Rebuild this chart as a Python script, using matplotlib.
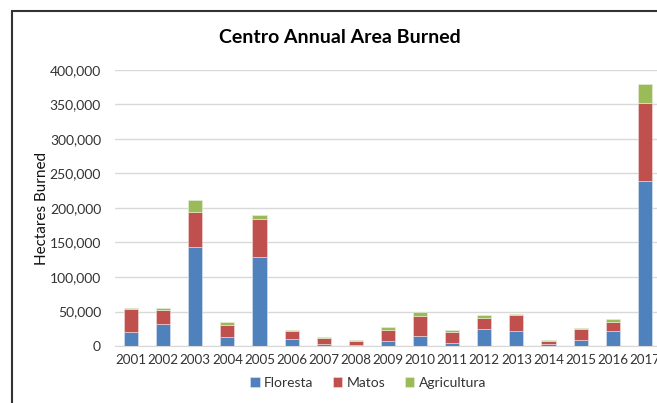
import matplotlib
matplotlib.use('Agg')
import matplotlib.pyplot as plt
import numpy as np
from matplotlib.patches import Rectangle
from matplotlib.ticker import FuncFormatter

plt.rcParams['font.family'] = ['Lato', 'DejaVu Sans']

years = [str(y) for y in range(2001, 2018)]
floresta = [21000, 32000, 143000, 13500, 129000, 9700, 2900, 1900, 6800,
            15000, 4800, 24600, 21700, 2400, 9100, 21700, 239000]
matos = [32000, 20000, 51000, 16500, 55500, 12500, 9100, 4900, 16900,
         28500, 16000, 15500, 22700, 4800, 15500, 13500, 113500]
agricultura = [2500, 3000, 18000, 5000, 6000, 500, 600, 1400, 3800,
               5800, 2400, 4300, 2000, 1000, 1500, 4400, 27000]

colors = {'Floresta': '#4F81BD', 'Matos': '#C0504D', 'Agricultura': '#9BBB59'}

fig = plt.figure(figsize=(6.57, 4.03), dpi=100)
ax = fig.add_axes([0.175, 0.1414, 0.831, 0.685])

x = np.arange(len(years))
w = 0.44
b1 = ax.bar(x, floresta, w, color=colors['Floresta'], label='Floresta',
            edgecolor='#dfe8f3', linewidth=0.4)
bottom2 = np.array(floresta)
b2 = ax.bar(x, matos, w, bottom=bottom2, color=colors['Matos'], label='Matos',
            edgecolor='#f3dede', linewidth=0.4)
bottom3 = bottom2 + np.array(matos)
b3 = ax.bar(x, agricultura, w, bottom=bottom3, color=colors['Agricultura'],
            label='Agricultura', edgecolor='#eaf1de', linewidth=0.4)

ax.set_xlim(-0.5, len(years) - 0.5)
ax.set_ylim(0, 400000)
ax.set_yticks(np.arange(0, 400001, 50000))
ax.yaxis.set_major_formatter(FuncFormatter(lambda v, p: f'{int(v):,}'))
ax.set_xticks(x)
ax.set_xticklabels(years)
ax.tick_params(axis='both', length=0, labelsize=10, colors='#333333')
ax.tick_params(axis='x', labelsize=9.6, pad=6)
ax.tick_params(axis='y', pad=10)
ax.grid(axis='y', color='#d9d9d9', linewidth=1)
ax.set_axisbelow(True)
for s in ['top', 'right', 'left']:
    ax.spines[s].set_visible(False)
ax.spines['bottom'].set_color('#d9d9d9')

fig.text(0.064, 0.483, 'Hectares Burned', rotation=90, ha='center',
         va='center', fontsize=11, color='#111111')
fig.text(0.517, 0.908, 'Centro Annual Area Burned', ha='center',
         va='center', fontsize=14, fontweight='bold', color='#000000')

fig.legend(handles=[b1, b2, b3], loc='center', bbox_to_anchor=(0.56, 0.05),
           ncol=3, frameon=False, fontsize=10, handlelength=0.7,
           handleheight=0.7, handletextpad=0.3, columnspacing=1.4,
           labelcolor='#333333')

# outer chart border
fig.patches.append(Rectangle((12 / 657, -0.2), 1.2, 1.2 - 11 / 403,
                             transform=fig.transFigure, fill=False,
                             edgecolor='#333333', linewidth=1.5))

fig.savefig('out.png', dpi=100)
